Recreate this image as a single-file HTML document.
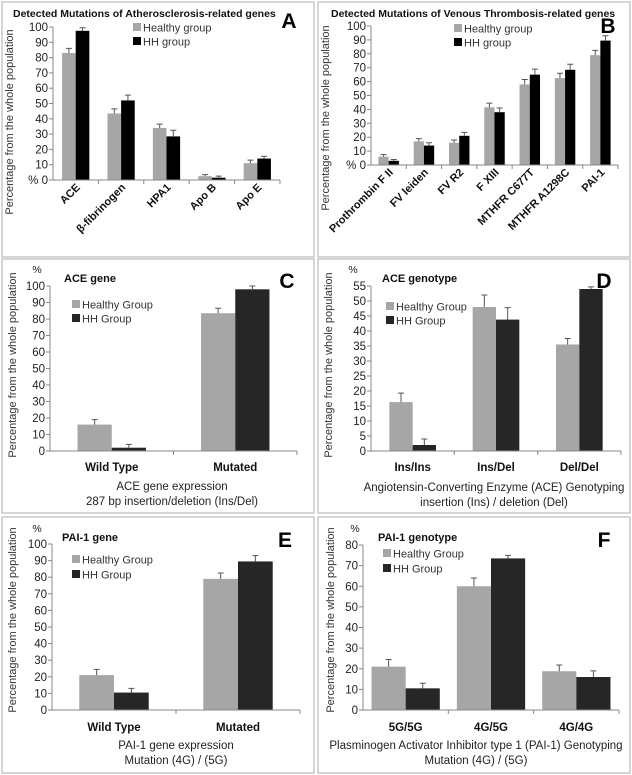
<!DOCTYPE html>
<html><head><meta charset="utf-8">
<style>
html,body{margin:0;padding:0;background:#fff;}
svg{display:block;font-family:"Liberation Sans",sans-serif;}
</style></head>
<body>
<svg id="fig" width="632" height="775" viewBox="0 0 632 775" xmlns="http://www.w3.org/2000/svg">
<rect x="0" y="0" width="632" height="775" fill="#fff"/>
</svg>
<script>
// Panel A
const catsA = ["ACE","β-fibrinogen","HPA1","Apo B","Apo E"];
const healthyA = [83, 43.5, 34, 2.5, 11];
const hhA = [97.5, 52, 28.5, 1.5, 14];
const errHealthyA = [3, 3, 2.5, 1, 2];
const errHhA = [2, 3.5, 4, 1, 1.5];
const ticksA = ["% 0","10","20","30","40","50","60","70","80","90","100"];
// Panel B
const catsB = ["Prothrombin F II","FV leiden","FV R2","F XIII","MTHFR  C677T","MTHFR  A1298C","PAI-1"];
const healthyB = [6, 17, 16, 41.5, 58, 62.5, 79];
const hhB = [3, 14, 21, 38, 65, 68.5, 89.5];
const errHealthyB = [1.5, 2, 2, 3, 3.5, 3.5, 3.5];
const errHhB = [1, 2, 2.5, 3, 4, 4, 3.5];
const ticksB = ["% 0","10","20","30","40","50","60","70","80","90","100"];
// Panel C
const catsC = ["Wild Type","Mutated"];
const healthyC = [16, 83.5];
const hhC = [2, 98];
const errHealthyC = [3, 3];
const errHhC = [2, 2];
const ticksC = ["0","10","20","30","40","50","60","70","80","90","100"];
// Panel D
const catsD = ["Ins/Ins","Ins/Del","Del/Del"];
const healthyD = [16.3, 48, 35.5];
const hhD = [2, 43.8, 54];
const errHealthyD = [3, 4, 2];
const errHhD = [2, 4, 0.7];
const ticksD = ["0","5","10","15","20","25","30","35","40","45","50","55"];
// Panel E
const catsE = ["Wild Type","Mutated"];
const healthyE = [21, 79];
const hhE = [10.5, 89.5];
const errHealthyE = [3.5, 3.5];
const errHhE = [2.5, 3.5];
const ticksE = ["0","10","20","30","40","50","60","70","80","90","100"];
// Panel F
const catsF = ["5G/5G","4G/5G","4G/4G"];
const healthyF = [21, 60, 18.8];
const hhF = [10.5, 73.5, 16];
const errHealthyF = [3.5, 4, 3];
const errHhF = [2.5, 1.5, 3];
const ticksF = ["0","10","20","30","40","50","60","70","80"];

const NS = "http://www.w3.org/2000/svg";
const svg = document.getElementById("fig");
function mk(tag, attrs, parent){
  const e = document.createElementNS(NS, tag);
  for (const k in attrs) e.setAttribute(k, attrs[k]);
  (parent||svg).appendChild(e);
  return e;
}
function txt(parent, x, y, s, size, opts){
  opts = opts || {};
  const t = mk("text", {x:x, y:y, "font-size":size, fill: opts.fill||"#222"}, parent);
  if (opts.anchor) t.setAttribute("text-anchor", opts.anchor);
  if (opts.bold) t.setAttribute("font-weight", "bold");
  if (opts.transform) t.setAttribute("transform", opts.transform);
  t.textContent = s;
  return t;
}

const panels = [
 {id:"a", box:[2,2,312,255], ax:53, right:280, top:27, bottom:180, max:100, cats:catsA, h:healthyA, hh:hhA, eh:errHealthyA, ehh:errHhA, ticks:ticksA,
  title:"Detected Mutations of Atherosclerosis-related genes", tx:13, ty:17, letter:"A", lx:289, ly:28, lg:[133,27,"Healthy group","HH group",14], ytx:13, yty:122, rot:true, labY:188, barFrac:0.3, dark:"#000", pct:false},
 {id:"b", box:[318,2,312,255], ax:371, right:618, top:26, bottom:165, max:100, cats:catsB, h:healthyB, hh:hhB, eh:errHealthyB, ehh:errHhB, ticks:ticksB,
  title:"Detected Mutations of Venous Thrombosis-related genes", tx:331, ty:17, letter:"B", lx:608, ly:33, lg:[454,28,"Healthy group","HH group",14], ytx:329, yty:118, rot:true, labY:173, barFrac:0.29, dark:"#000", pct:false},
 {id:"c", box:[2,259,312,254], ax:50, right:297, top:286, bottom:451, max:100, cats:catsC, h:healthyC, hh:hhC, eh:errHealthyC, ehh:errHhC, ticks:ticksC,
  title:"ACE gene", tx:64, ty:282, letter:"C", lx:287, ly:288, lg:[72,304,"Healthy Group","HH Group",14], ytx:16, yty:365, rot:false, labY:471, barFrac:0.277, dark:"#262626", pct:[37,273],
  xt:["ACE  gene expression","287 bp insertion/deletion (Ins/Del)"], xtx:172, xty:490},
 {id:"d", box:[318,259,312,254], ax:371, right:621, top:286, bottom:451, max:55, cats:catsD, h:healthyD, hh:hhD, eh:errHealthyD, ehh:errHhD, ticks:ticksD,
  title:"ACE genotype", tx:382, ty:282, letter:"D", lx:604, ly:288, lg:[386,306,"Healthy Group","HH Group",14], ytx:332, yty:365, rot:false, labY:471, barFrac:0.28, dark:"#262626", pct:[353,273],
  xt:["Angiotensin-Converting Enzyme (ACE) Genotyping","insertion (Ins) / deletion (Del)"], xtx:494, xty:491},
 {id:"e", box:[2,517,312,256], ax:52, right:300, top:544, bottom:710, max:100, cats:catsE, h:healthyE, hh:hhE, eh:errHealthyE, ehh:errHhE, ticks:ticksE,
  title:"PAI-1 gene", tx:62, ty:541, letter:"E", lx:285, ly:547, lg:[72,559,"Healthy Group","HH Group",15], ytx:16, yty:620, rot:false, labY:731, barFrac:0.28, dark:"#262626", pct:[37,532],
  xt:["PAI-1 gene expression","Mutation (4G) / (5G)"], xtx:176, xty:749},
 {id:"f", box:[318,517,312,256], ax:363, right:619, top:545, bottom:710, max:80, cats:catsF, h:healthyF, hh:hhF, eh:errHealthyF, ehh:errHhF, ticks:ticksF,
  title:"PAI-1 genotype", tx:378, ty:541, letter:"F", lx:604, ly:547, lg:[383,553,"Healthy Group","HH Group",15], ytx:334, yty:620, rot:false, labY:731, barFrac:0.4, dark:"#262626", pct:[355,532],
  xt:["Plasminogen Activator Inhibitor type 1 (PAI-1) Genotyping","Mutation (4G) / (5G)"], xtx:476, xty:749}
];

panels.forEach(p => {
  const g = mk("g", {});
  
  
  const bx = mk("rect", {x:p.box[0], y:p.box[1], width:p.box[2], height:p.box[3], fill:"#fff", stroke:"#c8c8c8", "stroke-width":1.5}, g);
  
  

  const yScale = v => p.bottom - v / p.max * (p.bottom - p.top);
  const n = p.cats.length;
  const bw = (p.right - p.ax) / n;
  const xCenter = i => p.ax + (i + 0.5) * bw;
  const barW = bw * p.barFrac;

  const t = txt(g, p.tx, p.ty, p.title, p.rot ? 10.5 : 11, {bold:true, fill:"#111"});
  
  
  const L = txt(g, p.lx, p.ly, p.letter, 21, {bold:true, fill:"#000", anchor:"middle"});
  
  
  if (p.pct) {
    const pc = txt(g, p.pct[0], p.pct[1], "%", 10.5, {anchor:"middle"});
    
    
  }

  const yt = txt(g, p.ytx, p.yty, "Percentage from the whole population", 11, {anchor:"middle", transform:"rotate(-90 " + p.ytx + " " + p.yty + ")", fill:"#333"});
  
  

  const step = p.max / (p.ticks.length - 1);
  p.ticks.forEach((lab, k) => {
    const yy = yScale(k * step);
    const tk = mk("line", {x1:p.ax - 4, x2:p.ax, y1:yy, y2:yy, stroke:"#888", "stroke-width":1}, g);
    
    
    const tl = txt(g, p.ax - 5, yy + 4, lab, 11.5, {anchor:"end", fill:"#222"});
    
    
  });

  p.cats.forEach((c, i) => {
    const cx = xCenter(i);
    [[p.h[i], p.eh[i], "#a6a6a6", cx - barW, "bar-healthy"], [p.hh[i], p.ehh[i], p.dark, cx, "bar-hh"]].forEach(s => {
      const top = yScale(s[0]);
      const r = mk("rect", {x:s[3], y:top, width:barW, height:p.bottom - top, fill:s[2]}, g);
      
      
      const et = yScale(s[0] + s[1]);
      const ex = s[3] + barW / 2;
      const el = mk("path", {d:"M" + ex + " " + top + "V" + et + "M" + (ex - 3) + " " + et + "H" + (ex + 3), stroke:"#555", "stroke-width":1, fill:"none"}, g);
      
      
    });
    let cl;
    if (p.rot) {
      const lx = cx + 5, ly = p.labY;
      cl = txt(g, lx, ly, c, 11, {anchor:"end", bold:true, fill:"#111", transform:"rotate(-45 " + lx + " " + ly + ")"});
    } else {
      cl = txt(g, cx, p.labY, c, 11.5, {anchor:"middle", bold:true, fill:"#111"});
    }
    
    
    const xb = p.ax + (i + 1) * bw;
    const xt = mk("line", {x1:xb, x2:xb, y1:p.bottom, y2:p.bottom + 4, stroke:"#888", "stroke-width":1}, g);
    
    
  });

  const ya = mk("line", {x1:p.ax, x2:p.ax, y1:p.top, y2:p.bottom, stroke:"#888", "stroke-width":1}, g);
  
  
  const xa = mk("line", {x1:p.ax - 4, x2:p.right, y1:p.bottom, y2:p.bottom, stroke:"#888", "stroke-width":1}, g);
  
  

  const lg = mk("g", {}, g);
  
  
  [[p.lg[2], "#a6a6a6"], [p.lg[3], p.dark]].forEach((e, k) => {
    const yy = p.lg[1] + k * p.lg[4];
    const sq = mk("rect", {x:p.lg[0], y:yy - 4, width:8, height:8, fill:e[1]}, lg);
    
    
    const lt = txt(lg, p.lg[0] + 10, yy + 4.5, e[0], 11, {fill:"#333"});
    
    
  });

  if (p.xt) {
    p.xt.forEach((line, k) => {
      const xl = txt(g, p.xtx, p.xty + k * 15, line, 11.5, {anchor:"middle", fill:"#222"});
      
      
    });
  }
});
</script>
</body></html>
